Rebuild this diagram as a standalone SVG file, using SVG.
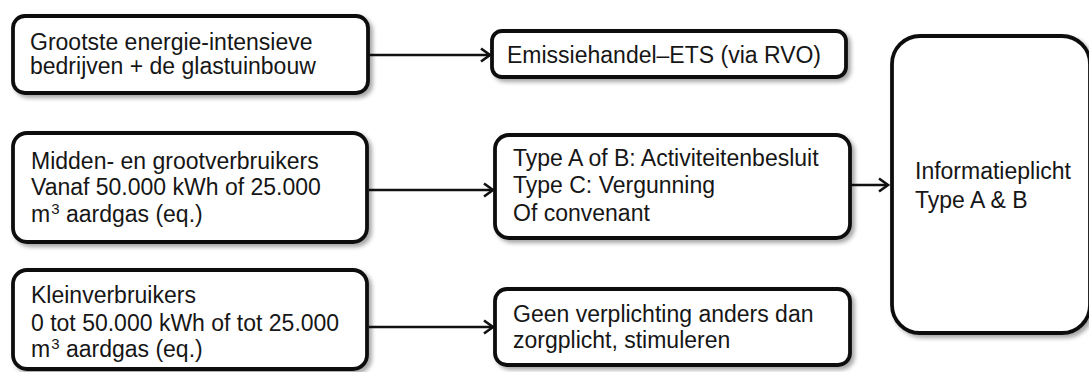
<svg xmlns="http://www.w3.org/2000/svg" width="1089" height="372" viewBox="0 0 1089 372">
  <defs>
    <filter id="sh" x="-10%" y="-10%" width="130%" height="130%">
      <feDropShadow dx="3" dy="3" stdDeviation="2" flood-color="#000" flood-opacity="0.35"/>
    </filter>
    <marker id="arr" markerUnits="userSpaceOnUse" markerWidth="14" markerHeight="16" refX="11" refY="8" orient="auto">
      <path d="M2,1.5 L11,8 L2,14.5" fill="none" stroke="#111" stroke-width="2.6" stroke-linejoin="miter"/>
    </marker>
  </defs>
  <style>
    .box { fill: #fff; stroke: #111; stroke-width: 3.8; filter: url(#sh); }
    .t { font-family: "Liberation Sans", Arial, sans-serif; font-size: 23px; fill: #161616; }
    .sup { font-size: 15px; }
    .c { stroke: #111; stroke-width: 2.6; fill: none; marker-end: url(#arr); }
  </style>
  <rect width="1089" height="372" fill="#fff"/>

  <g id="connectors">
    <line class="c" x1="369" y1="55" x2="490" y2="55"/>
    <line class="c" x1="369" y1="190" x2="493" y2="190"/>
    <line class="c" x1="369" y1="327" x2="493" y2="327"/>
    <line class="c" x1="851" y1="185" x2="888" y2="185"/>
  </g>

  <g id="n-grootste">
    <rect class="box" x="13" y="16" width="355" height="77" rx="12"/>
    <text class="t" x="30" y="50">Grootste energie-intensieve</text>
    <text class="t" x="30" y="74">bedrijven + de glastuinbouw</text>
  </g>

  <g id="n-ets">
    <rect class="box" x="492" y="31" width="354" height="46" rx="10"/>
    <text class="t" x="507" y="63">Emissiehandel–ETS (via RVO)</text>
  </g>

  <g id="n-midden">
    <rect class="box" x="13" y="133" width="354" height="109" rx="14"/>
    <text class="t" x="31" y="169">Midden- en grootverbruikers</text>
    <text class="t" x="31" y="195">Vanaf 50.000 kWh of 25.000</text>
    <text class="t" x="31" y="222">m<tspan class="sup" dx="1" dy="-8">3</tspan><tspan dy="8"> aardgas (eq.)</tspan></text>
  </g>

  <g id="n-type">
    <rect class="box" x="495" y="135" width="355" height="103" rx="14"/>
    <text class="t" x="513" y="166">Type A of B: Activiteitenbesluit</text>
    <text class="t" x="513" y="193">Type C: Vergunning</text>
    <text class="t" x="513" y="221">Of convenant</text>
  </g>

  <g id="n-klein">
    <rect class="box" x="13" y="270" width="354" height="99" rx="14"/>
    <text class="t" x="31" y="303">Kleinverbruikers</text>
    <text class="t" x="31" y="331">0 tot 50.000 kWh of tot 25.000</text>
    <text class="t" x="31" y="357">m<tspan class="sup" dx="1" dy="-8">3</tspan><tspan dy="8"> aardgas (eq.)</tspan></text>
  </g>

  <g id="n-geen">
    <rect class="box" x="495" y="289" width="355" height="76" rx="12"/>
    <text class="t" x="513" y="322">Geen verplichting anders dan</text>
    <text class="t" x="513" y="348">zorgplicht, stimuleren</text>
  </g>

  <g id="n-info">
    <rect class="box" x="892" y="36" width="198" height="297" rx="28"/>
    <text class="t" x="915" y="179">Informatieplicht</text>
    <text class="t" x="915" y="208">Type A &amp; B</text>
  </g>
</svg>
